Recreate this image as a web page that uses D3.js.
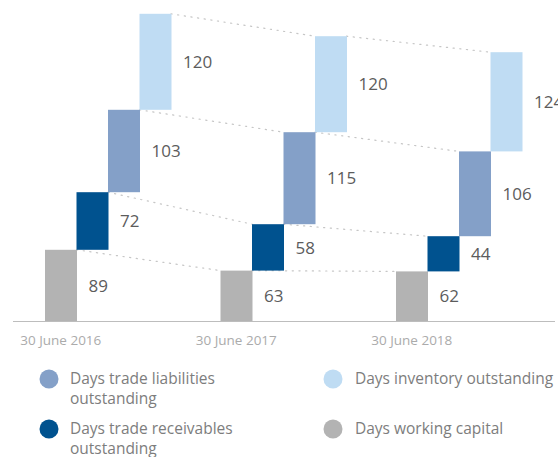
<!DOCTYPE html>
<html>
<head>
<meta charset="utf-8">
<script src="https://cdn.jsdelivr.net/npm/d3@7"></script>
<style>
  html, body { margin: 0; padding: 0; background: #fff; }
  svg { display: block; font-family: "Open Sans", "Noto Sans", sans-serif; }
</style>
</head>
<body>
<svg id="chart" width="558" height="457"></svg>
<script>
// ---- data ----
const years = ["30 June 2016", "30 June 2017", "30 June 2018"];
const seriesKeys = ["wc", "recv", "liab", "inv"];
const workingCapital = [89, 63, 62];
const receivables = [72, 58, 44];
const liabilities = [103, 115, 106];
const inventory = [120, 120, 124];
const seriesNames = {
  liab: ["Days trade liabilities", "outstanding"],
  recv: ["Days trade receivables", "outstanding"],
  inv: ["Days inventory outstanding"],
  wc: ["Days working capital"]
};
const colors = { wc: "#b3b3b3", recv: "#00528f", liab: "#84a0c8", inv: "#bfdcf3" };
const legendLeft = ["liab", "recv"];
const legendRight = ["inv", "wc"];

const values = { wc: workingCapital, recv: receivables, liab: liabilities, inv: inventory };

// ---- scales ----
const svg = d3.select("#chart");
const y = d3.scaleLinear().domain([0, 400]).range([321, 1]);
const xGroup = d3.scaleBand().domain(years).range([45, 45 + 3 * 175.5]).padding(0);
const xInner = d3.scaleBand().domain(seriesKeys).range([0, 126]).padding(0);
const bw = xInner.bandwidth();

// stacked segments
const segs = [];
years.forEach((yr, gi) => {
  let base = 0;
  seriesKeys.forEach(k => {
    const v = values[k][gi];
    segs.push({ year: yr, gi, key: k, v, y0: base, y1: base + v });
    base += v;
  });
});
const segX = d => xGroup(d.year) + xInner(d.key);

// dotted connector lines
const connectors = [];
seriesKeys.forEach(k => {
  for (let gi = 0; gi < years.length - 1; gi++) {
    const a = segs.find(s => s.key === k && s.gi === gi);
    const b = segs.find(s => s.key === k && s.gi === gi + 1);
    connectors.push({ a, b });
  }
});
svg.append("g").selectAll("line").data(connectors).join("line")
  .attr("x1", d => segX(d.a) + bw)
  .attr("y1", d => y(d.a.y1))
  .attr("x2", d => segX(d.b))
  .attr("y2", d => y(d.b.y1))
  .attr("stroke", "#c6c6c6")
  .attr("stroke-width", 1.2)
  .attr("stroke-dasharray", "1.2,5.5")
  .attr("stroke-linecap", "round");

// bars
svg.append("g").selectAll("rect").data(segs).join("rect")
  .attr("x", d => segX(d))
  .attr("y", d => y(d.y1))
  .attr("width", bw + 0.5)
  .attr("height", d => y(d.y0) - y(d.y1))
  .attr("fill", d => colors[d.key]);

// value labels
svg.append("g").selectAll("text").data(segs).join("text")
  .attr("x", d => segX(d) + bw + 12)
  .attr("y", d => (y(d.y0) + y(d.y1)) / 2)
  .attr("dy", "0.36em")
  .attr("font-size", 17)
  .attr("fill", "#5c5c5c")
  .text(d => d.v);

// x axis
const axisG = svg.append("g").attr("transform", `translate(0,${y(0)})`);
axisG.append("line").attr("x1", 13).attr("x2", 555).attr("y1", 0.5).attr("y2", 0.5)
  .attr("stroke", "#bdbdbd").attr("stroke-width", 1.2);
axisG.selectAll("text").data(years).join("text")
  .attr("x", d => xGroup(d) + xInner("wc") + bw / 2)
  .attr("y", 24)
  .attr("text-anchor", "middle")
  .attr("font-size", 13.5)
  .attr("fill", "#ababab")
  .text(d => d);

// legend
function legendCol(keys, cx, tx) {
  const rows = [379, 429];
  keys.forEach((k, i) => {
    const g = svg.append("g");
    g.append("circle").attr("cx", cx).attr("cy", rows[i]).attr("r", 9.5).attr("fill", colors[k]);
    seriesNames[k].forEach((line, li) => {
      g.append("text").attr("x", tx).attr("y", rows[i] + li * 19.5)
        .attr("dy", "0.35em").attr("font-size", 15.5).attr("fill", "#7d7d7d").text(line);
    });
  });
}
legendCol(legendLeft, 49, 70);
legendCol(legendRight, 333, 355);
</script>
</body>
</html>
